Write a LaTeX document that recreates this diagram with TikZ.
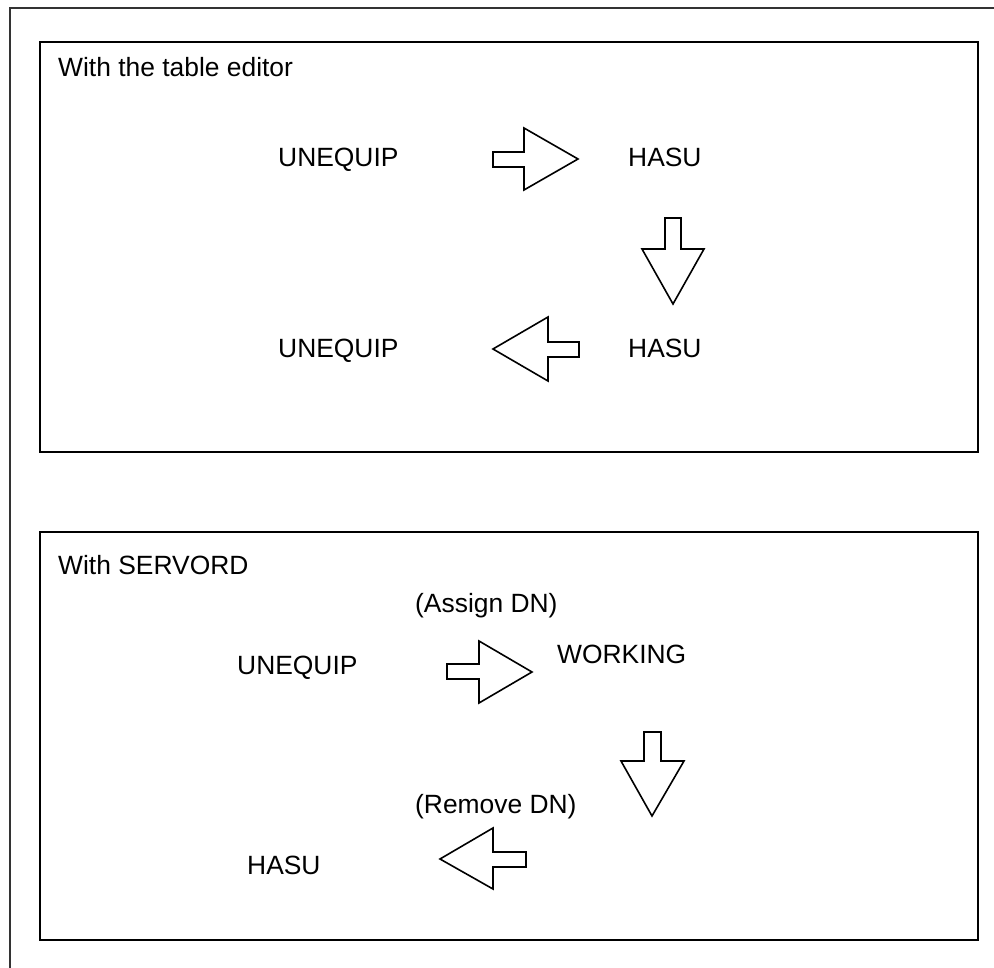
\documentclass[tikz,border=0pt]{standalone}
\usepackage{fontspec}
\setmainfont{Liberation Sans}
\begin{document}
\begin{tikzpicture}[x=1pt,y=-1pt,
  lbl/.style={anchor=base west,inner sep=0pt,font=\fontsize{26.4}{31}\selectfont},
  frame/.style={line width=1.2pt,draw=black!80},
  panel/.style={line width=2.2pt,draw=black},
  blockarrow/.style={line width=1.6pt,draw=black,fill=white,line join=miter}]
\useasboundingbox (0,0) rectangle (994,968);
% outer frame (top and left only)
\draw[frame] (10,968) -- (10,8) -- (994,8);
% panels
\draw[panel] (40,42) rectangle (978,452);
\draw[panel] (40,532) rectangle (978,940);
% panel 1 texts
\node[lbl] (t1) at (58,77) {With the table editor};
\node[lbl] (u1) at (278,167) {UNEQUIP};
\node[lbl] (h1) at (628,167) {HASU};
\node[lbl] (u2) at (278,358) {UNEQUIP};
\node[lbl] (h2) at (628,358) {HASU};
% panel 1 arrows
\draw[blockarrow] (493,152) -- (524,152) -- (524,128) -- (578,159) -- (524,190) -- (524,167) -- (493,167) -- cycle;
\draw[blockarrow] (665,218) -- (681,218) -- (681,249) -- (704,249) -- (673,304) -- (642,249) -- (665,249) -- cycle;
\draw[blockarrow] (579,342) -- (548,342) -- (548,317) -- (493,349) -- (548,381) -- (548,357) -- (579,357) -- cycle;
% panel 2 texts
\node[lbl] (t2) at (58,574) {With SERVORD};
\node[lbl] (a1) at (415,612) {(Assign DN)};
\node[lbl] (u3) at (237,674) {UNEQUIP};
\node[lbl] (w1) at (557,663) {WORKING};
\node[lbl] (r1) at (415,813) {(Remove DN)};
\node[lbl] (h3) at (247,874) {HASU};
% panel 2 arrows
\draw[blockarrow] (447,664) -- (479,664) -- (479,641) -- (532,672) -- (479,703) -- (479,679) -- (447,679) -- cycle;
\draw[blockarrow] (644,732) -- (661,732) -- (661,761) -- (684,761) -- (652,816) -- (621,761) -- (644,761) -- cycle;
\draw[blockarrow] (526,852) -- (493,852) -- (493,828) -- (440,859) -- (493,889) -- (493,867) -- (526,867) -- cycle;
\end{tikzpicture}
\end{document}
